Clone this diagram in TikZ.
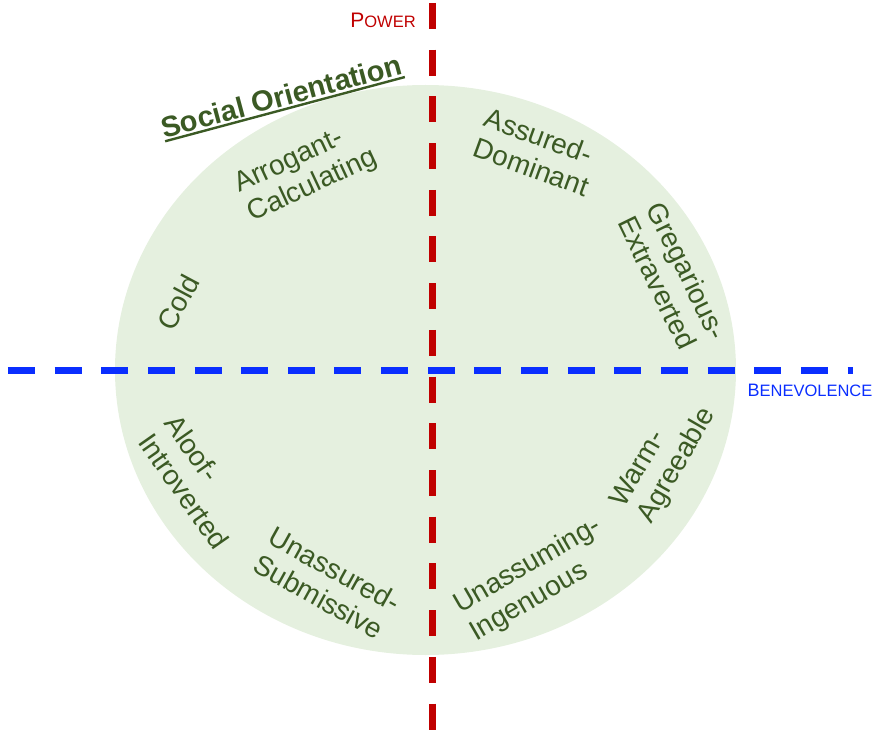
\documentclass[tikz,border=0pt]{standalone}
\usepackage{fontspec}
\setmainfont{Liberation Sans}
\usepackage{tikz}

\definecolor{traitgreen}{HTML}{3B5A24}
\definecolor{discfill}{HTML}{E5F0DF}
\definecolor{powerred}{HTML}{C00000}
\definecolor{benevblue}{HTML}{0A2EFF}

% heavier underline than \underline gives
\newcommand{\headline}[1]{\setbox0=\hbox{#1}\rlap{\rule[-4.5pt]{\wd0}{2.4pt}}\box0}

\begin{document}
\begin{tikzpicture}[
        x=1pt, y=1pt,
        every node/.style={inner sep=0pt, text=traitgreen, font=\fontsize{28}{32}\selectfont},
        trait/.style={align=left},
        heading/.style={font=\bfseries\fontsize{29}{32}\selectfont},
        axis_label/.style={anchor=base, font=\fontsize{16.5}{16.5}\selectfont},
        power_axis/.style={draw=powerred, line width=7pt, dash pattern=on 26pt off 20.7pt},
        benev_axis/.style={draw=benevblue, line width=7pt, dash pattern=on 27pt off 19.64pt}
    ]
    \useasboundingbox (-433,-361) rectangle (443,370);

    \fill[discfill] (-7.5,0) ellipse [x radius=310.5, y radius=285];

    \coordinate (power top) at (0,367);
    \coordinate (power bottom) at (0,-361);
    \coordinate (benev left) at (-425,0);
    \coordinate (benev right) at (420,0);
    \draw[benev_axis] (benev left) -- (benev right);
    \draw[power_axis] (power top) -- (power bottom);

    \node[axis_label, text=powerred] (power) at (-50,342)
        {{\fontsize{21}{21}\selectfont P}OWER};
    \node[axis_label, text=benevblue] (benev) at (377,-26)
        {{\fontsize{18}{18}\selectfont B}ENEVOLENCE};

    \node[heading, rotate=15] (title) at (-151,272) {\headline{Social Orientation}};

    \node[trait, rotate=25] (arrogant) at (-127,198) {Arrogant-\\Calculating};
    \node[trait, rotate=-20] (assured) at (104,218) {Assured-\\Dominant};
    \node[trait, rotate=-64] (gregarious) at (240,92) {Gregarious-\\Extraverted};
    \node[trait, rotate=62] (cold) at (-255,68) {Cold};
    \node[trait, rotate=-55] (aloof) at (-236,-112) {Aloof-\\Introverted};
    \node[trait, rotate=-29] (unassured) at (-106,-213) {Unassured-\\Submissive};
    \node[trait, rotate=30] (unassuming) at (103,-210) {Unassuming-\\Ingenuous};
    \node[trait, rotate=60] (warm) at (231,-88) {Warm-\\Agreeable};
\end{tikzpicture}
\end{document}
